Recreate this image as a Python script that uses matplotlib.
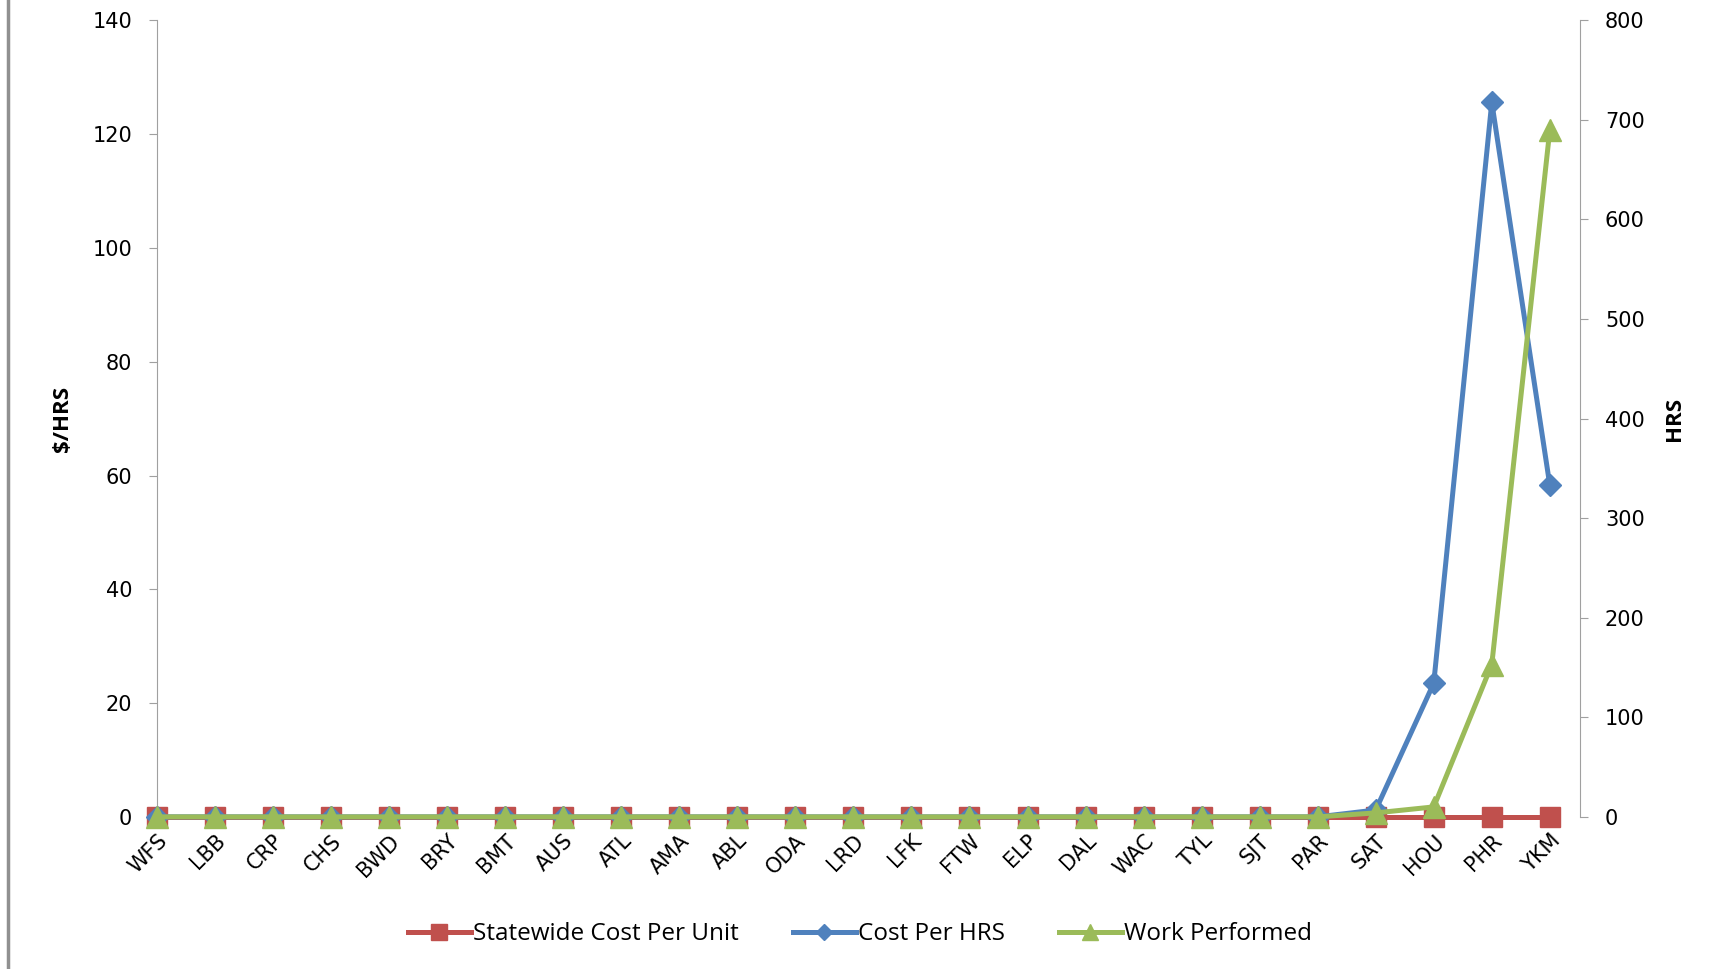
import matplotlib
matplotlib.use('Agg')
import matplotlib.pyplot as plt
from matplotlib.lines import Line2D
from matplotlib import font_manager

plt.rcParams.update({
    'font.family': 'DejaVu Sans',
    'axes.edgecolor': '#a0a0a0',
    'xtick.color': '#a0a0a0',
    'ytick.color': '#a0a0a0',
    'xtick.labelcolor': '#000000',
    'ytick.labelcolor': '#000000',
})

names = {f.name for f in font_manager.fontManager.ttflist}
narrow = 'Liberation Sans Narrow' if 'Liberation Sans Narrow' in names else 'Open Sans'

districts = ['WFS', 'LBB', 'CRP', 'CHS', 'BWD', 'BRY', 'BMT', 'AUS', 'ATL', 'AMA',
             'ABL', 'ODA', 'LRD', 'LFK', 'FTW', 'ELP', 'DAL', 'WAC', 'TYL', 'SJT',
             'PAR', 'SAT', 'HOU', 'PHR', 'YKM']
statewide_cost = [0] * 25
cost_per_hrs = [0, 0, 0, 0, 0, 0, 0, 0, 0, 0,
                0, 0, 0, 0, 0, 0, 0, 0, 0, 0,
                0, 1.2, 23.5, 125.6, 58.3]
work_performed = [0, 0, 0, 0, 0, 0, 0, 0, 0, 0,
                  0, 0, 0, 0, 0, 0, 0, 0, 0, 0,
                  0, 4, 10, 153, 690]

red = '#c0504d'
blue = '#4f81bd'
green = '#9bbb59'

fig = plt.figure(figsize=(17.2, 9.69), dpi=100)
ax = fig.add_axes([0.0913, 0.157, 0.8273, 0.822])
ax2 = ax.twinx()

x = range(len(districts))
ax.plot(x, statewide_cost, color=red, lw=3.6, marker='s', ms=15, zorder=3, clip_on=False)
ax.plot(x, cost_per_hrs, color=blue, lw=3.6, marker='D', ms=11, zorder=4, clip_on=False)
ax2.plot(x, work_performed, color=green, lw=3.6, marker='^', ms=16, zorder=5, clip_on=False)

ax.set_xlim(0, 24.52)
ax.set_ylim(0, 140)
ax2.set_ylim(0, 800)
ax.set_yticks(range(0, 141, 20))
ax2.set_yticks(range(0, 801, 100))

ax.set_xticks(list(x))
ax.set_xticklabels(districts, rotation=45, ha='right', rotation_mode='anchor')
ax.tick_params(axis='x', length=0, pad=10, labelsize=15, labelfontfamily='DejaVu Sans')
ax.tick_params(axis='y', labelsize=15, length=6, pad=12, labelfontfamily='DejaVu Sans')
ax2.tick_params(axis='y', labelsize=15, length=6, pad=12, labelfontfamily='DejaVu Sans')

for a in (ax, ax2):
    a.spines['top'].set_visible(False)
    a.spines['bottom'].set_visible(False)
ax2.spines['left'].set_visible(False)
ax.spines['right'].set_visible(False)

ax.set_ylabel('$/HRS', fontsize=16, fontweight='bold', fontfamily=narrow, labelpad=14)
ax2.set_ylabel('HRS', fontsize=16, fontweight='bold', fontfamily=narrow,
               rotation=90, labelpad=14)

handles = [
    Line2D([], [], color=red, lw=3.6, marker='s', ms=11),
    Line2D([], [], color=blue, lw=3.6, marker='D', ms=8),
    Line2D([], [], color=green, lw=3.6, marker='^', ms=12),
]
labels = ['Statewide Cost Per Unit', 'Cost Per HRS', 'Work Performed']
fig.legend(handles, labels, loc='center', bbox_to_anchor=(0.5, 0.036), ncol=3, frameon=False,
           prop={'family': narrow, 'size': 17.5},
           handlelength=2.6, handletextpad=0.1, columnspacing=2.2)

fig.add_artist(Line2D([0.0047, 0.0047], [0, 1], transform=fig.transFigure, color='#909090', lw=2.5))

fig.savefig('out.png', dpi=100, facecolor='white')
